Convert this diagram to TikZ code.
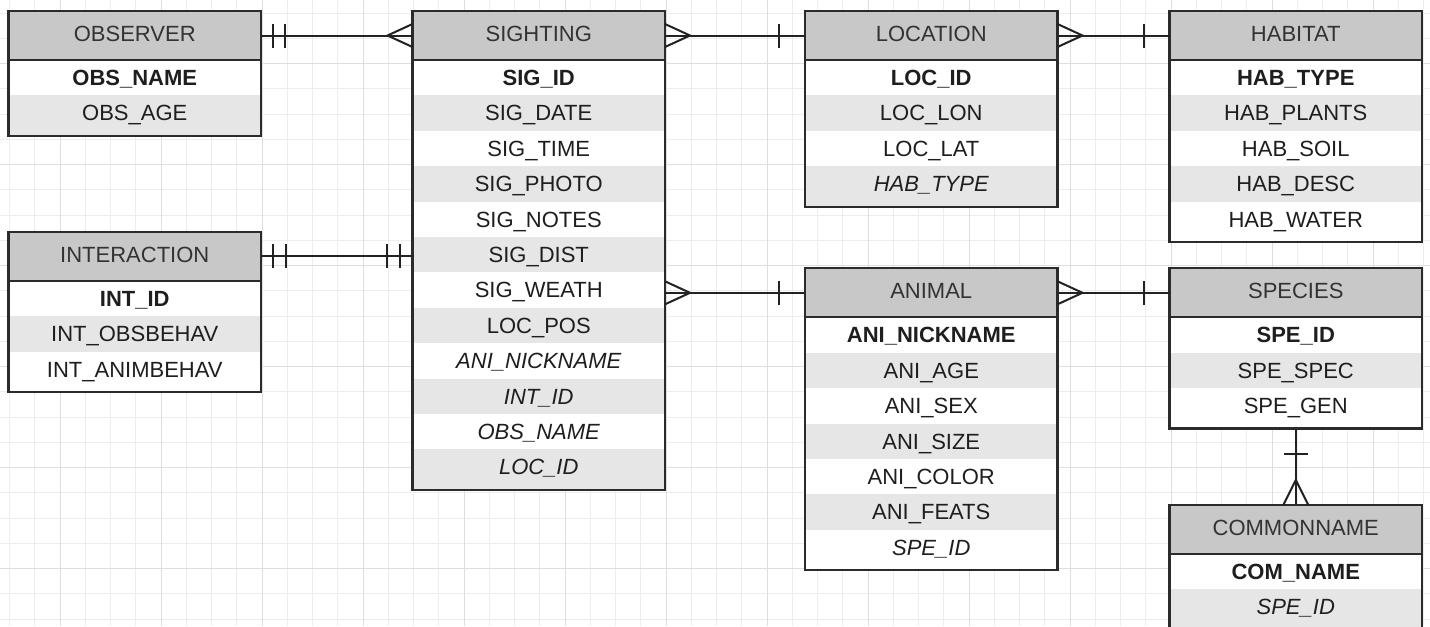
\documentclass[tikz,border=0pt]{standalone}
\usepackage{fontspec}
\setmainfont{Liberation Sans}
\usetikzlibrary{calc}
\definecolor{hdrgray}{HTML}{C8C8C8}
\definecolor{rowgray}{HTML}{E6E6E6}
\definecolor{edgec}{HTML}{2B2B2B}
\definecolor{connc}{HTML}{222222}
\definecolor{gridminor}{HTML}{EDEDED}
\definecolor{gridmajor}{HTML}{DEDEDE}
\definecolor{txt}{HTML}{1E1E1E}
\definecolor{hdrtxt}{HTML}{333333}
\newcommand\fmtb{\bfseries}
\newcommand\fmtn{}
\newcommand\fmti{\itshape}
\tikzset{
  erfont/.style={font=\fontsize{16.5pt}{19pt}\selectfont},
  hdr/.style={erfont, draw=edgec, line width=1.6pt, fill=hdrgray, minimum width=189.375pt, minimum height=36.75pt, inner sep=0pt, outer sep=0pt, anchor=north west, text=hdrtxt, text height=11.8pt, text depth=3pt},
  rowbox/.style={erfont, minimum width=189.375pt, minimum height=26.55pt, inner sep=0pt, outer sep=0pt, anchor=north west, text=txt, text height=11.8pt, text depth=0pt},
  bodybox/.style={minimum width=189.375pt, inner sep=0pt, outer sep=0pt, anchor=north west},
  frameline/.style={draw=edgec, line width=1.6pt},
  conn/.style={draw=connc, line width=1.5pt},
}
\newcommand\erbox[6]{%
  \pgfmathsetmacro\bodyh{(49+35.4*#5+5)*0.75}%
  \ifodd#5\def\lastfill{white}\else\def\lastfill{rowgray}\fi
  \node[bodybox, fill=\lastfill, minimum height=\bodyh pt] (#1) at (#2,#3) {};
  \foreach[count=\ri] \ty/\tx in {#6}{%
    \pgfmathsetmacro\yy{#3+49+35.4*(\ri-1)}%
    \ifodd\ri\def\rf{white}\else\def\rf{rowgray}\fi
    \node[rowbox, fill=\rf] (#1R\ri) at (#2,\yy) {\csname fmt\ty\endcsname\tx};
  }
  \node[hdr] (#1H) at (#2,#3) {#4};
  \draw[frameline] (#1.north west) rectangle (#1.south east);
}
\newcommand\barh[2]{\draw[conn] ($(#1)+(#2,-12)$) -- ($(#1)+(#2,12)$);}
\newcommand\crowh[2]{\draw[conn] ($(#1)+(0,-11.5)$) -- ($(#1)+(#2,0)$) -- ($(#1)+(0,11.5)$);}
\newcommand\barv[2]{\draw[conn] ($(#1)+(-12,#2)$) -- ($(#1)+(12,#2)$);}
\newcommand\crowv[2]{\draw[conn] ($(#1)+(-12.5,0)$) -- ($(#1)+(0,#2)$) -- ($(#1)+(12.5,0)$);}
\begin{document}
\begin{tikzpicture}[x=0.75pt, y=-0.75pt]
\useasboundingbox (0,0) rectangle (1430,626);
\clip (0,0) rectangle (1430,626);
\fill[white] (0,0) rectangle (1430,626);
% grid
\foreach \k in {-2,...,54}{\pgfmathsetmacro\gx{60+25.25*\k}\draw[gridminor, line width=0.75pt] (\gx,0) -- (\gx,626);}
\foreach \k in {0,...,24}{\pgfmathsetmacro\gy{619.2-25.25*\k}\draw[gridminor, line width=0.75pt] (0,\gy) -- (1430,\gy);}
\foreach \k in {0,...,13}{\pgfmathsetmacro\gx{60+101*\k}\draw[gridmajor, line width=0.75pt] (\gx,0) -- (\gx,626);}
\foreach \k in {0,...,5}{\pgfmathsetmacro\gy{568.7-101*\k}\draw[gridmajor, line width=0.75pt] (0,\gy) -- (1430,\gy);}
% entities
\erbox{obs}{8.5}{11}{OBSERVER}{2}{b/OBS\_NAME, n/OBS\_AGE}
\erbox{int}{8.5}{231.7}{INTERACTION}{3}{b/INT\_ID, n/INT\_OBSBEHAV, n/INT\_ANIMBEHAV}
\erbox{sig}{412.5}{11}{SIGHTING}{12}{b/SIG\_ID, n/SIG\_DATE, n/SIG\_TIME, n/SIG\_PHOTO, n/SIG\_NOTES, n/SIG\_DIST, n/SIG\_WEATH, n/LOC\_POS, i/ANI\_NICKNAME, i/INT\_ID, i/OBS\_NAME, i/LOC\_ID}
\erbox{loc}{805}{11}{LOCATION}{4}{b/LOC\_ID, n/LOC\_LON, n/LOC\_LAT, i/HAB\_TYPE}
\erbox{ani}{805}{268.3}{ANIMAL}{7}{b/ANI\_NICKNAME, n/ANI\_AGE, n/ANI\_SEX, n/ANI\_SIZE, n/ANI\_COLOR, n/ANI\_FEATS, i/SPE\_ID}
\erbox{hab}{1169.5}{11}{HABITAT}{5}{b/HAB\_TYPE, n/HAB\_PLANTS, n/HAB\_SOIL, n/HAB\_DESC, n/HAB\_WATER}
\erbox{spe}{1169.5}{268.3}{SPECIES}{3}{b/SPE\_ID, n/SPE\_SPEC, n/SPE\_GEN}
\erbox{com}{1169.5}{505}{COMMONNAME}{2}{b/COM\_NAME, i/SPE\_ID}
% relationships
\coordinate (r1a) at (obsH.east); \coordinate (r1b) at (obsH.east -| sig.west);
\draw[conn] (r1a) -- (r1b); \barh{r1a}{12} \barh{r1a}{24} \crowh{r1b}{-25}
\coordinate (r2a) at (intH.east); \coordinate (r2b) at (intH.east -| sig.west);
\draw[conn] (r2a) -- (r2b); \barh{r2a}{12} \barh{r2a}{25} \barh{r2b}{-13} \barh{r2b}{-26}
\coordinate (r3a) at (sigH.east); \coordinate (r3b) at (locH.west);
\draw[conn] (r3a) -- (r3b); \crowh{r3a}{25} \barh{r3b}{-26}
\coordinate (r4a) at (locH.east); \coordinate (r4b) at (habH.west);
\draw[conn] (r4a) -- (r4b); \crowh{r4a}{25} \barh{r4b}{-26}
\coordinate (r5a) at (aniH.west -| sig.east); \coordinate (r5b) at (aniH.west);
\draw[conn] (r5a) -- (r5b); \crowh{r5a}{25} \barh{r5b}{-26}
\coordinate (r6a) at (aniH.east); \coordinate (r6b) at (speH.west);
\draw[conn] (r6a) -- (r6b); \crowh{r6a}{25} \barh{r6b}{-26}
\coordinate (r7a) at (spe.south); \coordinate (r7b) at (comH.north);
\draw[conn] (r7a) -- (r7b); \barv{r7a}{25} \crowv{r7b}{-25}
\end{tikzpicture}
\end{document}
